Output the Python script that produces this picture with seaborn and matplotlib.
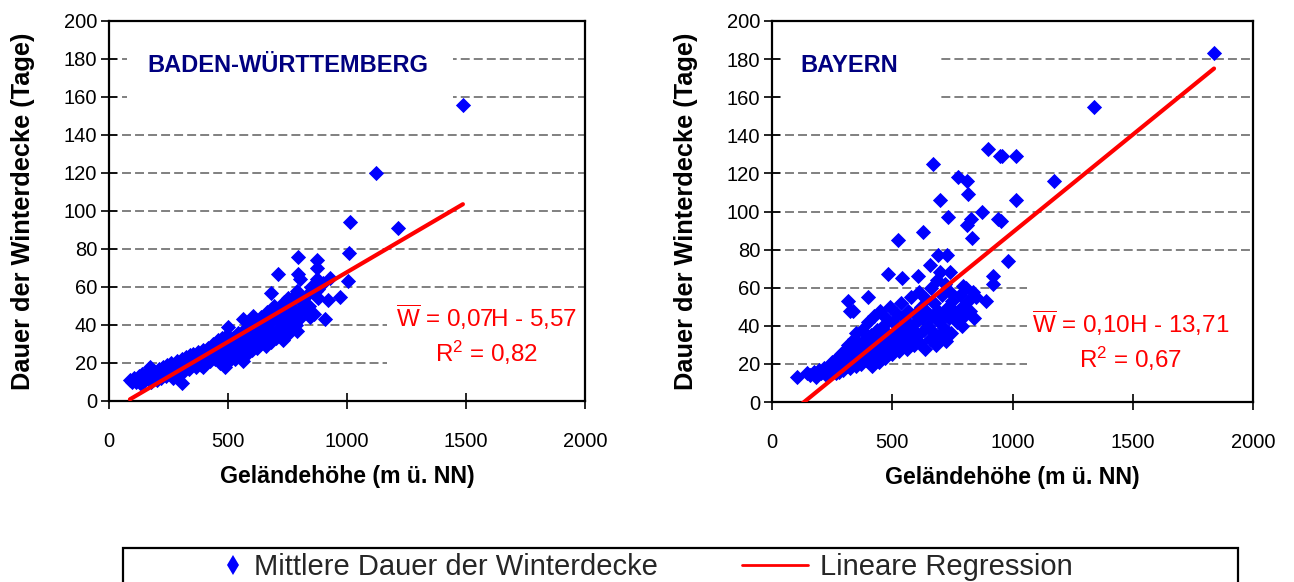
import numpy as np
import pandas as pd
import matplotlib
matplotlib.use("Agg")
import matplotlib.pyplot as plt
from matplotlib.lines import Line2D
from matplotlib.patches import Rectangle
import seaborn as sns

# ---------------- data ----------------
bw_x = [1487, 1122, 1214, 1013, 1008, 1004, 794, 874, 874, 710, 794, 802, 874, 929, 878, 680, 752, 802,
        920, 970, 845, 908, 781, 790, 731, 664, 605, 563, 500, 458, 563, 487, 395, 307, 97, 172, 88,
        105, 115, 125, 135, 140, 150, 160, 165, 175, 180, 190, 195, 200, 205, 210, 215,
        220, 225, 230, 240, 245, 250, 255, 260, 265, 270, 275, 280, 285, 290, 295, 300,
        305, 310, 315, 320, 325, 330, 335, 340, 345, 350, 355, 360, 365, 370, 375, 380, 385, 390, 395, 400,
        405, 410, 415, 420, 425, 430, 435, 440, 445, 450, 455, 460, 465, 470, 475, 480, 485, 490, 495, 500, 505, 510,
        515, 520, 525, 530, 535, 540, 545, 550, 555, 560, 565, 570, 575, 580, 585, 590, 595, 600,
        605, 610, 615, 620, 625, 630, 635, 640, 645, 650, 655, 660, 665, 670, 675, 680, 685, 690, 695, 700,
        705, 710, 715, 720, 725, 730, 735, 740, 745, 750, 755, 760, 765, 770, 775, 780, 785, 790, 795, 800,
        810, 820, 830, 840, 850, 860, 870, 880, 900]
bw_y = [156, 120, 91, 94, 78, 63, 76, 74, 70, 67, 67, 64, 64, 65, 59, 57, 54, 53,
        53, 55, 44, 43, 48, 37, 32, 47, 45, 43, 39, 32, 21, 18, 18, 9.5, 10, 18, 11,
        12, 10, 13, 9, 14, 11, 15, 12, 10, 14, 16, 12, 11, 15, 17, 13,
        12, 18, 15, 13, 19, 16, 14, 20, 17, 12, 18, 15, 21, 19, 14, 17,
        22, 20, 16, 18, 23, 21, 17, 24, 19, 22, 25, 20, 18, 23, 26, 21, 19, 24, 27, 22,
        20, 25, 28, 23, 21, 26, 30, 24, 22, 27, 31, 25, 20, 29, 33, 26, 23, 28, 35, 24, 21, 30,
        27, 33, 25, 22, 29, 36, 31, 26, 24, 34, 28, 38, 30, 25, 33, 40, 29, 27,
        35, 31, 42, 28, 37, 33, 30, 44, 36, 32, 40, 29, 38, 34, 46, 31, 42, 36, 50, 33,
        44, 38, 35, 48, 41, 37, 52, 45, 39, 43, 36, 50, 46, 41, 55, 44, 40, 58, 47, 43,
        52, 48, 56, 50, 60, 46, 58, 54, 62]

by_x = [1838, 1339, 1015, 956, 1173, 1015, 952, 981, 898, 948, 669, 773, 811, 815, 699, 732, 873, 827,
        940, 811, 628, 524, 832, 690, 728, 657, 482, 540, 607, 699, 740, 794, 836, 919, 919, 890, 790,
        316, 399, 324, 104, 146, 337,
        160, 175, 185, 195, 205, 215, 225, 235, 245, 250,
        255, 260, 265, 270, 275, 280, 285, 290, 295, 300, 305, 310, 315, 320, 325, 330, 335, 340, 345, 350, 350,
        355, 360, 365, 370, 375, 380, 385, 390, 395, 400, 405, 410, 415, 420, 425, 430, 435, 440, 445, 450, 450,
        455, 460, 465, 470, 475, 480, 485, 490, 495, 500, 505, 510, 515, 520, 525, 530, 535, 540, 545, 550,
        555, 560, 565, 570, 575, 580, 585, 590, 595, 600, 605, 610, 615, 620, 625, 630, 635, 640, 645, 650,
        655, 660, 665, 670, 675, 680, 685, 690, 695, 700, 705, 710, 715, 720, 725, 730, 735, 740, 745, 750,
        760, 770, 780, 790, 800, 805, 815, 825, 840, 850]
by_y = [183, 155, 129, 129, 116, 106, 95, 74, 133, 129, 125, 118, 116, 109, 106, 97, 100, 96,
        96, 93, 89, 85, 86, 77, 77, 72, 67, 65, 66, 68, 68, 61, 58, 66, 62, 53, 40,
        53, 55, 48, 13, 15, 48,
        14, 16, 13, 17, 15, 18, 14, 19, 16, 21,
        17, 20, 15, 23, 18, 16, 25, 20, 17, 27, 22, 19, 30, 24, 18, 28, 21, 33, 26, 19, 36,
        23, 30, 27, 20, 38, 25, 33, 22, 29, 42, 26, 35, 19, 31, 45, 24, 38, 28, 21, 34, 48,
        26, 40, 30, 23, 44, 36, 28, 50, 32, 25, 42, 37, 29, 46, 34, 27, 52, 39, 31, 44,
        36, 28, 48, 41, 33, 55, 38, 30, 46, 42, 35, 58, 31, 50, 44, 38, 28, 54, 47, 40,
        33, 60, 45, 37, 52, 30, 64, 48, 42, 35, 56, 46, 39, 62, 32, 50, 44, 58, 36, 53,
        47, 42, 56, 50, 45, 60, 53, 48, 44, 55]

regions = ["BADEN-WÜRTTEMBERG", "BAYERN"]
slopes = [0.0734, 0.1027]
intercepts = [-5.57, -13.71]
equations = [r"$\overline{\mathrm{W}}$ = 0,07H - 5,57" + "\n" + r"R$^2$ = 0,82",
             r"$\overline{\mathrm{W}}$ = 0,10H - 13,71" + "\n" + r"R$^2$ = 0,67"]
x_ticks = [0, 500, 1000, 1500, 2000]
y_ticks = list(range(0, 201, 20))
x_label = "Geländehöhe (m ü. NN)"
y_label = "Dauer der Winterdecke (Tage)"
legend_labels = ["Mittlere Dauer der Winterdecke", "Lineare Regression"]

# ---------------- style ----------------
sns.set_theme(style="white")
plt.rcParams['font.family'] = ['Liberation Sans', 'DejaVu Sans']
plt.rcParams['mathtext.fontset'] = 'custom'
plt.rcParams['mathtext.rm'] = 'Liberation Sans'
plt.rcParams['mathtext.it'] = 'Liberation Sans:italic'
plt.rcParams['mathtext.bf'] = 'Liberation Sans:bold'

BLUE = "#0000FF"
RED = "#FF0000"
NAVY = "#000080"

fig = plt.figure(figsize=(12.94, 5.82), dpi=100)
W, H = 1294, 582
ax_boxes = [(109, 21, 585, 401), (772, 21, 1253, 402)]

datasets = [(bw_x, bw_y), (by_x, by_y)]
title_pos = [(0.080, 0.882), (0.058, 0.882)]
title_box = [(0.038, 0.771, 0.685, 0.166), (0.022, 0.771, 0.323, 0.166)]
eq_pos = [(0.792, 0.176), (0.745, 0.161)]
eq_box = [(0.584, 0.076, 0.416, 0.203), (0.530, 0.081, 0.470, 0.241)]

for i, (xs, ys) in enumerate(datasets):
    l, t, r, b = ax_boxes[i]
    ax = fig.add_axes([l / W, 1 - b / H, (r - l) / W, (b - t) / H])
    df = pd.DataFrame({"H": xs, "W": ys})
    ax.set_axisbelow(True)
    ax.yaxis.grid(True, color="#808080", linewidth=1.4, linestyle=(0, (4.6, 2.1)))
    ax.xaxis.grid(False)
    sns.scatterplot(data=df, x="H", y="W", marker="D", s=60, color=BLUE,
                    linewidth=0, ax=ax, zorder=3, legend=False)
    xr = np.array([min(xs), max(xs)])
    ax.plot(xr, slopes[i] * xr + intercepts[i], color=RED, linewidth=3, zorder=4,
            solid_capstyle="round")
    ax.set_xlim(0, 2000)
    ax.set_ylim(0, 200)
    ax.set_xticks(x_ticks)
    ax.set_yticks(y_ticks)
    ax.tick_params(axis="both", direction="inout", length=11, width=1.2, color="black",
                   labelsize=14.5, labelcolor="black", bottom=True, left=True)
    ax.tick_params(axis="x", pad=17)
    ax.tick_params(axis="y", pad=3)
    for s in ax.spines.values():
        s.set_color("black")
        s.set_linewidth(1.6)
    ax.set_xlabel(x_label, fontsize=16.7, fontweight="bold", labelpad=10, color="black")
    ax.set_ylabel(y_label, fontsize=18.3, fontweight="bold", labelpad=21, color="black")
    # white text boxes (hide gridlines behind the texts)
    for (bx, by, bw, bh) in (title_box[i], eq_box[i]):
        ax.add_patch(Rectangle((bx, by), bw, bh, transform=ax.transAxes,
                               facecolor="white", edgecolor="none", zorder=2))
    ax.text(title_pos[i][0], title_pos[i][1], regions[i], transform=ax.transAxes,
            ha="left", va="center", fontsize=17, fontweight="bold", color=NAVY, zorder=5)
    ax.text(eq_pos[i][0], eq_pos[i][1], equations[i], transform=ax.transAxes,
            ha="center", va="center", multialignment="center", fontsize=17.4, color=RED,
            linespacing=1.3, zorder=5)

# legend
fig.add_artist(Rectangle((123 / W, -0.05), (1238 - 123) / W, 0.05 + 1 - 548 / H,
                         transform=fig.transFigure, facecolor="white",
                         edgecolor="black", linewidth=1.6))
leg_y = 1 - 567 / H
h1 = Line2D([], [], marker="d", color=BLUE, linestyle="", markersize=10, markeredgewidth=0)
h2 = Line2D([], [], color=RED, linewidth=2)
fig.legend(handles=[h1], labels=[legend_labels[0]], loc="center left",
           bbox_to_anchor=(218 / W, leg_y), frameon=False, borderpad=0, borderaxespad=0,
           handlelength=1.0, handletextpad=0.25, fontsize=21)
fig.legend(handles=[h2], labels=[legend_labels[1]], loc="center left",
           bbox_to_anchor=(742 / W, leg_y), frameon=False, borderpad=0, borderaxespad=0,
           handlelength=2.26, handletextpad=0.41, fontsize=21)

fig.savefig("out.png", dpi=100)
